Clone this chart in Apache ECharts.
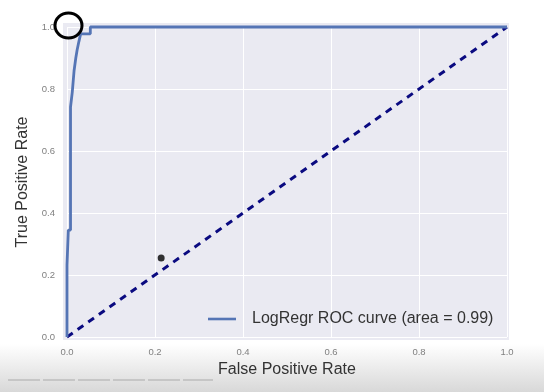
<!DOCTYPE html>
<html>
<head>
<meta charset="utf-8">
<script src="https://cdn.jsdelivr.net/npm/echarts@6/dist/echarts.min.js"></script>
<style>html,body{margin:0;padding:0;background:#fff}#c{width:544px;height:392px}</style>
</head>
<body>
<div id="c"></div>
<script>
// ROC curve (step points)
const rocFpr = [0.000, 0.000, 0.003, 0.003, 0.008, 0.008, 0.012, 0.012, 0.016, 0.016, 0.020, 0.020, 0.023, 0.023, 0.027, 0.027, 0.031, 0.031, 0.053, 0.053, 1.000];
const rocTpr = [0.000, 0.232, 0.232, 0.345, 0.345, 0.742, 0.742, 0.790, 0.790, 0.858, 0.858, 0.900, 0.900, 0.926, 0.926, 0.953, 0.953, 0.978, 0.978, 1.000, 1.000];
// chance diagonal
const diagX = [0, 1];
const diagY = [0, 1];
// marker dot
const dotX = [0.214];
const dotY = [0.255];
const tickValues = [0, 0.2, 0.4, 0.6, 0.8, 1.0];
const legendLabel = 'LogRegr ROC curve (area = 0.99)';
const xName = 'False Positive Rate';
const yName = 'True Positive Rate';

const chart = echarts.init(document.getElementById('c'), null, {renderer: 'canvas'});
const FONT = '"Liberation Sans", Arial, sans-serif';
const tickFmt = v => v.toFixed(1);

chart.setOption({
  animation: false,
  backgroundColor: '#ffffff',
  grid: {left: 67, right: 37, top: 27, bottom: 55, containLabel: false},
  graphic: {elements: [
    {type: 'rect', z: -20, silent: true, shape: {x: 0, y: 344, width: 544, height: 48},
      style: {fill: new echarts.graphic.LinearGradient(0, 0, 0, 1, [
        {offset: 0, color: 'rgba(255,255,255,1)'},
        {offset: 1, color: '#d8d8d8'}])}},
    {type: 'rect', z: -10, silent: true, shape: {x: 63, y: 23, width: 446, height: 317},
      style: {fill: '#EAEAF2'}},
    {type: 'line', z: -5, silent: true, shape: {x1: 8, y1: 380, x2: 213, y2: 380},
      style: {stroke: '#bdbdbd', lineWidth: 1.5, lineDash: [32, 3]}},
    {type: 'ellipse', z: 100, silent: true, shape: {cx: 68.5, cy: 25.5, rx: 13.5, ry: 12.5},
      style: {fill: 'none', stroke: '#000', lineWidth: 3}}
  ]},
  legend: {
    show: true,
    data: [legendLabel],
    left: 208, top: 311, padding: 0,
    itemWidth: 28, itemHeight: 14, itemGap: 10,
    textStyle: {fontFamily: FONT, fontSize: 16, color: '#333', padding: [0, 0, 0, 11]},
    icon: 'path://M0,6 L28,6 L28,8.6 L0,8.6 Z'
  },
  xAxis: {
    type: 'value', min: 0, max: 1, interval: 0.2,
    name: xName, nameLocation: 'middle', nameGap: 25,
    nameTextStyle: {fontFamily: FONT, fontSize: 16, color: '#333'},
    axisLine: {show: false}, axisTick: {show: false},
    axisLabel: {fontFamily: FONT, fontSize: 9.5, color: '#808080', margin: 10, formatter: tickFmt},
    splitLine: {show: true, lineStyle: {color: '#ffffff', width: 1}}
  },
  yAxis: {
    type: 'value', min: 0, max: 1, interval: 0.2,
    name: yName, nameLocation: 'middle', nameGap: 31, nameRotate: 90,
    nameTextStyle: {fontFamily: FONT, fontSize: 16, color: '#333'},
    axisLine: {show: false}, axisTick: {show: false},
    axisLabel: {fontFamily: FONT, fontSize: 9.5, color: '#808080', margin: 12, formatter: tickFmt},
    splitLine: {show: true, lineStyle: {color: '#ffffff', width: 1}}
  },
  series: [
    {
      name: legendLabel, type: 'line', clip: false, showSymbol: false, symbol: 'none',
      data: rocFpr.map((x, i) => [x, rocTpr[i]]),
      lineStyle: {color: '#5575B5', width: 2.8},
      itemStyle: {color: '#5575B5'}, z: 3
    },
    {
      name: 'diag', type: 'line', clip: false, showSymbol: false, symbol: 'none',
      data: diagX.map((x, i) => [x, diagY[i]]),
      lineStyle: {color: '#0a0a80', width: 3, type: [7, 6]}, z: 2
    },
    {
      name: 'dot', type: 'scatter', symbolSize: 7,
      data: dotX.map((x, i) => [x, dotY[i]]),
      itemStyle: {color: '#000'}, z: 4
    }
  ]
});
</script>
</body>
</html>
